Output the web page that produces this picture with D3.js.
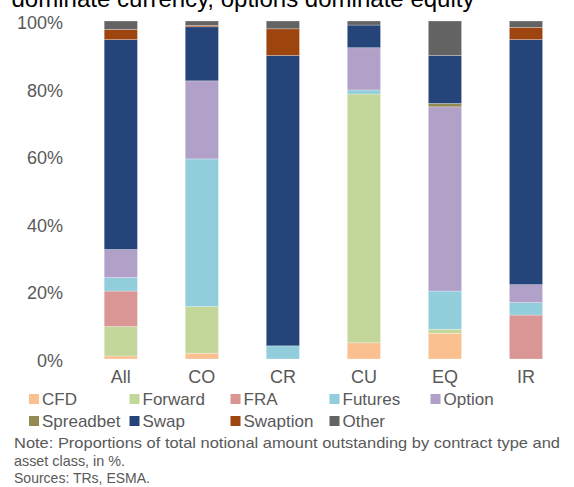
<!DOCTYPE html>
<html>
<head>
<meta charset="utf-8">
<script src="https://cdn.jsdelivr.net/npm/d3@7/dist/d3.min.js"></script>
<style>
  html, body { margin: 0; padding: 0; background: #fff; }
  svg { display: block; font-family: "Liberation Sans", Arial, sans-serif; }
</style>
</head>
<body>
<svg id="chart" width="574" height="487"></svg>
<script>
// ---- data ----
const categories = ["All", "CO", "CR", "CU", "EQ", "IR"];
const seriesNames = ["CFD", "Forward", "FRA", "Futures", "Option", "Spreadbet", "Swap", "Swaption", "Other"];
const seriesColors = ["#FAC090", "#C4D79B", "#DA9694", "#92CDDC", "#B1A0C7", "#948A54", "#254479", "#9E450F", "#636363"];
const CFD       = [0.9, 1.7, 0.0, 4.8, 7.6, 0.0];
const Forward   = [8.7, 13.8, 0.0, 73.6, 1.2, 0.0];
const FRA       = [10.5, 0.0, 0.0, 0.0, 0.0, 13.0];
const Futures   = [4.0, 43.7, 3.9, 1.2, 11.3, 3.7];
const Option    = [8.3, 23.1, 0.0, 12.5, 54.5, 5.3];
const Spreadbet = [0.0, 0.0, 0.0, 0.0, 1.0, 0.0];
const Swap      = [62.1, 16.0, 85.9, 6.7, 14.2, 72.5];
const Swaption  = [3.0, 0.4, 7.9, 0.0, 0.0, 3.6];
const Other     = [2.5, 1.3, 2.3, 1.2, 10.2, 1.9];
const yTicks = [0, 20, 40, 60, 80, 100];
const titleText = "dominate currency, options dominate equity";
const noteLines = [
  "Note: Proportions of total notional amount outstanding by contract type and",
  "asset class, in %.",
  "Sources: TRs, ESMA."
];

const seriesValues = [CFD, Forward, FRA, Futures, Option, Spreadbet, Swap, Swaption, Other];
const rows = categories.map((c, i) => {
  const r = { cat: c };
  seriesNames.forEach((s, j) => { r[s] = seriesValues[j][i]; });
  return r;
});

// ---- layout ----
const svg = d3.select("#chart");
const gray = "#595959";

const x = d3.scaleBand()
  .domain(categories)
  .range([80.3, 566.5])
  .paddingInner(0.59)
  .paddingOuter(0.295);

const y = d3.scaleLinear().domain([0, 100]).range([359, 21]);

const stack = d3.stack().keys(seriesNames);
const layers = stack(rows);

const color = d3.scaleOrdinal().domain(seriesNames).range(seriesColors);

// title (partially cut off at top)
svg.append("text")
  .attr("x", 11.5)
  .attr("y", 7)
  .attr("font-size", 24)
  .attr("fill", "#000")
  .attr("textLength", 463)
  .attr("lengthAdjust", "spacingAndGlyphs")
  .text(titleText);

// bars
svg.append("g")
  .selectAll("g")
  .data(layers)
  .join("g")
  .attr("fill", d => color(d.key))
  .selectAll("rect")
  .data(d => d.filter(p => p[1] - p[0] > 0))
  .join("rect")
  .attr("x", d => x(d.data.cat))
  .attr("width", x.bandwidth())
  .attr("y", d => y(d[1]))
  .attr("height", d => y(d[0]) - y(d[1]))
  .attr("stroke", "rgba(255,255,255,0.35)")
  .attr("stroke-width", 0.75);

// y axis
const yAxis = d3.axisLeft(y)
  .tickValues(yTicks)
  .tickFormat(d => d + "%")
  .tickSize(0)
  .tickPadding(0);
const gy = svg.append("g")
  .attr("transform", "translate(63,0)")
  .call(yAxis);
gy.select(".domain").remove();
gy.selectAll("text")
  .attr("font-size", 18)
  .attr("font-family", "Liberation Sans, Arial, sans-serif")
  .attr("fill", gray)
  .attr("dy", "0.42em");

// x axis
const xAxis = d3.axisBottom(x).tickSize(0).tickPadding(0);
const gx = svg.append("g")
  .attr("transform", "translate(0,383)")
  .call(xAxis);
gx.select(".domain").remove();
gx.selectAll("text")
  .attr("font-size", 18)
  .attr("font-family", "Liberation Sans, Arial, sans-serif")
  .attr("fill", gray)
  .attr("dy", 0)
  .attr("y", 0);

// legend
const legCols = [29, 129.5, 230.5, 329.5, 430.5];
const legRows = [405, 427];
const legend = svg.append("g")
  .selectAll("g")
  .data(seriesNames)
  .join("g")
  .attr("transform", (d, i) => `translate(${legCols[i % 5]},${legRows[Math.floor(i / 5)]})`);
legend.append("rect")
  .attr("x", 0)
  .attr("y", -11)
  .attr("width", 10)
  .attr("height", 10)
  .attr("fill", d => color(d));
legend.append("text")
  .attr("x", 13)
  .attr("y", 0)
  .attr("font-size", 17)
  .attr("fill", gray)
  .text(d => d);

// note
const noteLengths = [546, 111, 136];
const noteY = [447.5, 465.5, 483.3];
svg.append("g")
  .selectAll("text")
  .data(noteLines)
  .join("text")
  .attr("x", 14)
  .attr("y", (d, i) => noteY[i])
  .attr("font-size", 15)
  .attr("fill", gray)
  .attr("textLength", (d, i) => noteLengths[i])
  .attr("lengthAdjust", "spacingAndGlyphs")
  .text(d => d);
</script>
</body>
</html>
